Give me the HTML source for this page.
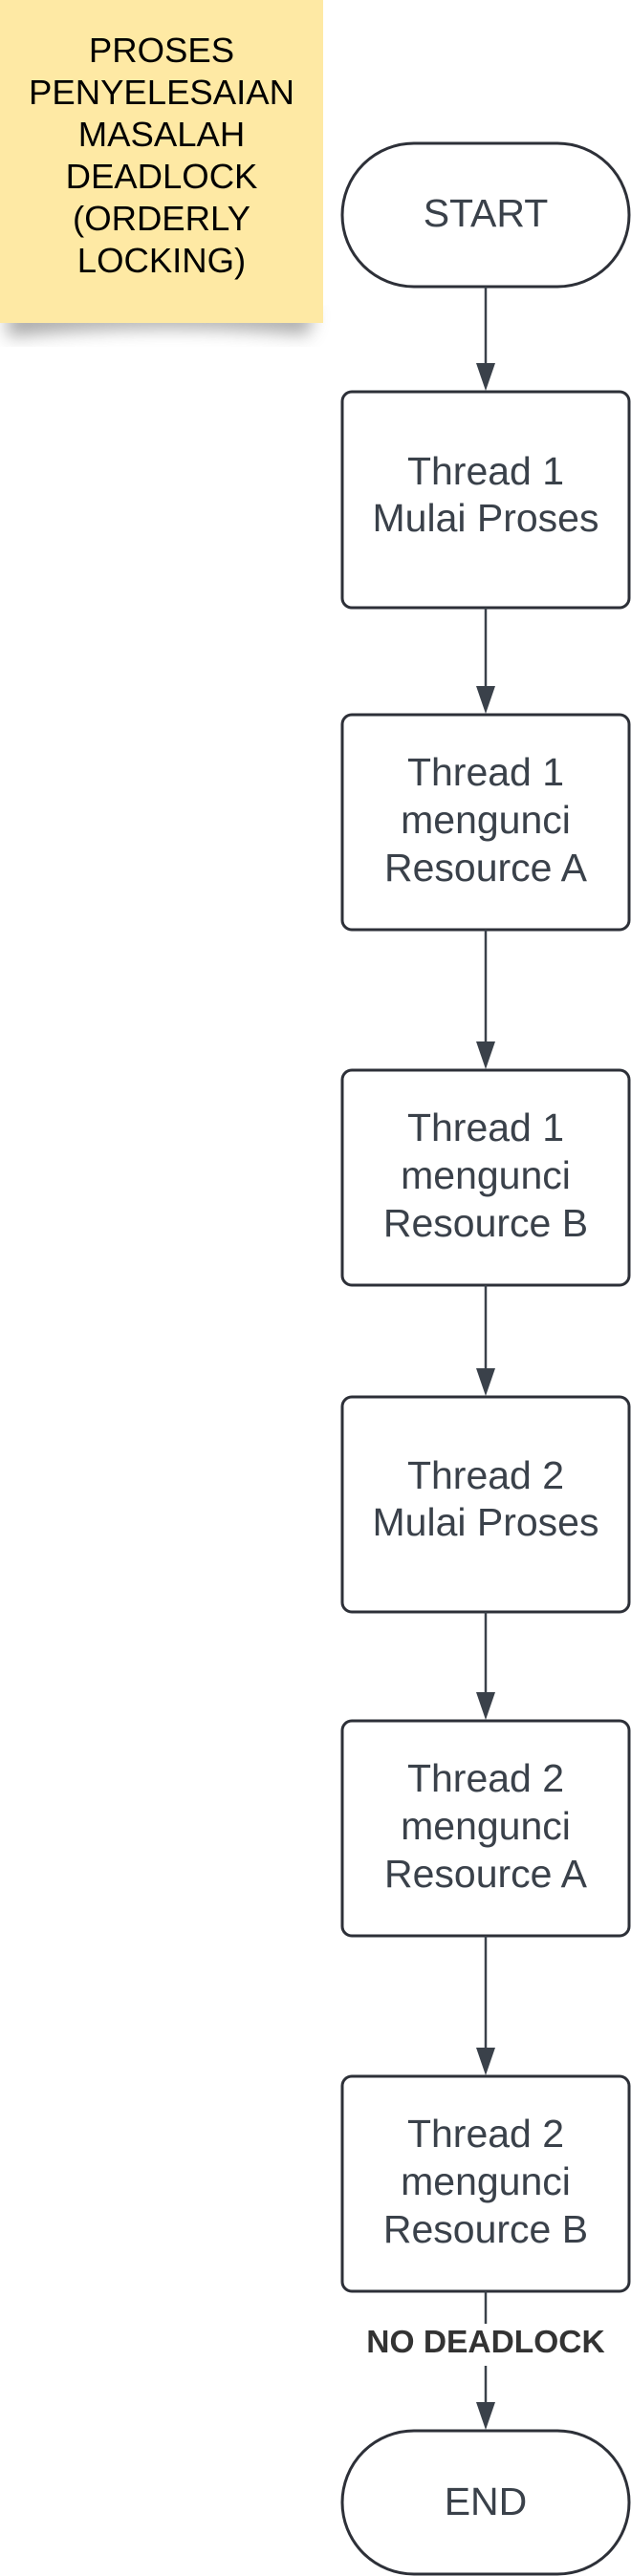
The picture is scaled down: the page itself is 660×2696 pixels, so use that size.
<!DOCTYPE html>
<html><head><meta charset="utf-8"><style>
html,body{margin:0;padding:0;background:#fff;}
svg{display:block;}
</style></head><body>
<svg width="660" height="2696" viewBox="0 0 660 2696" xmlns="http://www.w3.org/2000/svg">
<defs>
<filter id="sh" x="-20%" y="-20%" width="140%" height="160%"><feGaussianBlur stdDeviation="9"/></filter>
</defs>
<path d="M8 325 L328 325 L322 350 Q170 335 8 352 Z" fill="#888" opacity="0.75" filter="url(#sh)"/>
<rect x="0" y="0" width="338" height="338" fill="#fee9a4"/>
<g font-family="Liberation Sans, sans-serif" font-size="36.5" fill="#000" text-anchor="middle">
<text x="169" y="65">PROSES</text>
<text x="169" y="109">PENYELESAIAN</text>
<text x="169" y="153">MASALAH</text>
<text x="169" y="197">DEADLOCK</text>
<text x="169" y="241">(ORDERLY</text>
<text x="169" y="285">LOCKING)</text>
</g>
<g stroke="#2d3038" stroke-width="3" fill="#fff">
<rect x="358" y="150" width="300" height="150" rx="75"/>
<rect x="358" y="410" width="300" height="226" rx="10"/>
<rect x="358" y="748" width="300" height="225" rx="10"/>
<rect x="358" y="1120" width="300" height="225" rx="10"/>
<rect x="358" y="1462" width="300" height="225" rx="10"/>
<rect x="358" y="1801" width="300" height="225" rx="10"/>
<rect x="358" y="2173" width="300" height="225" rx="10"/>
<rect x="358" y="2544" width="300" height="150" rx="75"/>
</g>
<g stroke="#3a414a" stroke-width="2.5">
<line x1="508" y1="300" x2="508" y2="382"/>
<line x1="508" y1="636" x2="508" y2="720"/>
<line x1="508" y1="973" x2="508" y2="1092"/>
<line x1="508" y1="1345" x2="508" y2="1434"/>
<line x1="508" y1="1687" x2="508" y2="1773"/>
<line x1="508" y1="2026" x2="508" y2="2145"/>
<line x1="508" y1="2398" x2="508" y2="2432"/>
<line x1="508" y1="2476" x2="508" y2="2516"/>
</g>
<g fill="#3a414a">
<path d="M498 380 L518 380 L508 409 Z"/>
<path d="M498 718 L518 718 L508 747 Z"/>
<path d="M498 1090 L518 1090 L508 1119 Z"/>
<path d="M498 1432 L518 1432 L508 1461 Z"/>
<path d="M498 1771 L518 1771 L508 1800 Z"/>
<path d="M498 2143 L518 2143 L508 2172 Z"/>
<path d="M498 2514 L518 2514 L508 2543 Z"/>
</g>
<g font-family="Liberation Sans, sans-serif" font-size="41" fill="#3a414a" text-anchor="middle">
<text x="508" y="237">START</text>
<text x="508" y="507">Thread 1</text>
<text x="508" y="556">Mulai Proses</text>
<text x="508" y="822">Thread 1</text>
<text x="508" y="872">mengunci</text>
<text x="508" y="922">Resource A</text>
<text x="508" y="1194">Thread 1</text>
<text x="508" y="1244">mengunci</text>
<text x="508" y="1294">Resource B</text>
<text x="508" y="1558">Thread 2</text>
<text x="508" y="1607">Mulai Proses</text>
<text x="508" y="1875">Thread 2</text>
<text x="508" y="1925">mengunci</text>
<text x="508" y="1975">Resource A</text>
<text x="508" y="2247">Thread 2</text>
<text x="508" y="2297">mengunci</text>
<text x="508" y="2347">Resource B</text>
<text x="508" y="2632">END</text>
</g>
<text x="508" y="2462" font-family="Liberation Sans, sans-serif" font-size="33.5" font-weight="bold" fill="#333" text-anchor="middle">NO DEADLOCK</text>
</svg>
</body></html>
